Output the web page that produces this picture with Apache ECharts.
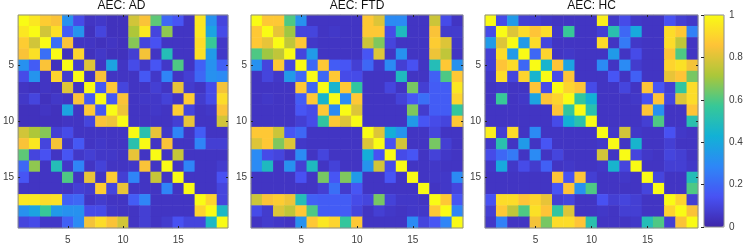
<!DOCTYPE html>
<html><head><meta charset="utf-8">
<script src="https://cdn.jsdelivr.net/npm/echarts@6/dist/echarts.min.js"></script>
<style>html,body{margin:0;padding:0;background:#fff}#c{width:747px;height:252px}</style>
</head><body><div id="c"></div>
<script>
const channels = ['1','2','3','4','5','6','7','8','9','10','11','12','13','14','15','16','17','18','19'];
const titles = ['AEC: AD', 'AEC: FTD', 'AEC: HC'];
const shownTicks = ['5', '10', '15'];
const colorbarTicks = [0, 0.2, 0.4, 0.6, 0.8, 1];

const AD = [
 [1,0.95,0.88,0.85,0.32,0.12,0.05,0.06,0.04,0.04,0.78,0.85,0.62,0.2,0.15,0.05,0.95,0.32,0.1],
 [0.95,1,0.78,0.93,0.17,0.33,0.04,0.1,0.04,0.04,0.72,0.95,0.1,0.68,0.05,0.05,0.95,0.38,0.12],
 [0.88,0.78,1,0.22,0.85,0.05,0.05,0.04,0.05,0.04,0.67,0.1,0.14,0.05,0.05,0.05,0.92,0.57,0.06],
 [0.85,0.93,0.22,1,0.04,0.9,0.04,0.06,0.04,0.04,0.08,0.84,0.05,0.5,0.05,0.05,0.93,0.35,0.06],
 [0.32,0.17,0.85,0.04,1,0.07,0.8,0.05,0.38,0.05,0.12,0.06,0.15,0.06,0.6,0.05,0.18,0.32,0.18],
 [0.12,0.33,0.05,0.9,0.07,1,0.05,0.85,0.05,0.05,0.05,0.16,0.06,0.28,0.05,0.08,0.2,0.32,0.3],
 [0.05,0.04,0.05,0.04,0.8,0.05,1,0.16,0.87,0.1,0.05,0.05,0.08,0.05,0.82,0.07,0.05,0.12,0.84],
 [0.06,0.1,0.04,0.06,0.05,0.85,0.16,1,0.16,0.85,0.05,0.06,0.06,0.09,0.05,0.88,0.07,0.12,0.92],
 [0.04,0.04,0.05,0.04,0.38,0.05,0.87,0.16,1,0.83,0.05,0.05,0.06,0.05,0.88,0.1,0.05,0.06,0.85],
 [0.04,0.04,0.04,0.04,0.05,0.05,0.1,0.85,0.83,1,0.05,0.05,0.05,0.05,0.08,0.82,0.05,0.05,0.78],
 [0.78,0.72,0.67,0.08,0.12,0.05,0.05,0.05,0.05,0.05,1,0.52,0.82,0.06,0.28,0.05,0.17,0.05,0.05],
 [0.85,0.95,0.1,0.84,0.06,0.16,0.05,0.06,0.05,0.05,0.52,1,0.05,0.85,0.05,0.05,0.28,0.08,0.08],
 [0.62,0.1,0.14,0.05,0.15,0.06,0.08,0.06,0.06,0.05,0.82,0.05,1,0.05,0.76,0.05,0.05,0.05,0.05],
 [0.2,0.68,0.05,0.5,0.06,0.28,0.05,0.09,0.05,0.05,0.06,0.85,0.05,1,0.05,0.28,0.05,0.05,0.07],
 [0.15,0.05,0.05,0.05,0.6,0.05,0.82,0.05,0.88,0.08,0.28,0.05,0.76,0.05,1,0.05,0.05,0.05,0.14],
 [0.05,0.05,0.05,0.05,0.05,0.08,0.07,0.88,0.1,0.82,0.05,0.05,0.05,0.28,0.05,1,0.05,0.05,0.1],
 [0.95,0.95,0.92,0.93,0.18,0.2,0.05,0.07,0.05,0.05,0.17,0.28,0.05,0.05,0.05,0.05,1,0.9,0.1],
 [0.32,0.38,0.57,0.35,0.32,0.32,0.12,0.12,0.06,0.05,0.05,0.08,0.05,0.05,0.05,0.05,0.9,1,0.47],
 [0.1,0.12,0.06,0.06,0.18,0.3,0.84,0.92,0.85,0.78,0.05,0.08,0.05,0.07,0.14,0.1,0.1,0.47,1]
];

const FTD = [
 [1,0.87,0.87,0.6,0.32,0.05,0.05,0.05,0.05,0.05,0.87,0.8,0.3,0.3,0.05,0.05,0.77,0.12,0.05],
 [0.87,1,0.82,0.7,0.1,0.1,0.05,0.06,0.05,0.05,0.87,0.87,0.12,0.48,0.05,0.05,0.85,0.07,0.07],
 [0.87,0.82,1,0.75,0.87,0.06,0.05,0.05,0.05,0.05,0.77,0.66,0.1,0.05,0.05,0.05,0.88,0.8,0.06],
 [0.6,0.7,0.75,1,0.1,0.35,0.05,0.05,0.05,0.05,0.15,0.8,0.05,0.32,0.05,0.05,0.83,0.75,0.05],
 [0.32,0.1,0.87,0.1,1,0.2,0.87,0.17,0.15,0.08,0.2,0.06,0.3,0.08,0.14,0.05,0.5,0.87,0.32],
 [0.05,0.1,0.06,0.35,0.2,1,0.2,0.87,0.12,0.12,0.05,0.05,0.05,0.48,0.05,0.05,0.18,0.6,0.87],
 [0.05,0.05,0.05,0.05,0.87,0.2,1,0.45,0.87,0.55,0.05,0.05,0.1,0.05,0.65,0.08,0.17,0.17,0.95],
 [0.05,0.06,0.05,0.05,0.17,0.87,0.45,1,0.3,0.87,0.05,0.05,0.05,0.09,0.15,0.22,0.17,0.17,0.9],
 [0.05,0.05,0.05,0.05,0.15,0.12,0.87,0.3,1,0.8,0.05,0.05,0.05,0.05,0.66,0.07,0.17,0.17,0.56],
 [0.05,0.05,0.05,0.05,0.08,0.12,0.55,0.87,0.8,1,0.05,0.05,0.05,0.05,0.35,0.15,0.12,0.1,0.87],
 [0.87,0.87,0.77,0.15,0.2,0.05,0.05,0.05,0.05,0.05,1,0.8,0.42,0.33,0.05,0.05,0.1,0.05,0.05],
 [0.8,0.87,0.66,0.8,0.06,0.05,0.05,0.05,0.05,0.05,0.8,1,0.14,0.78,0.05,0.05,0.65,0.08,0.05],
 [0.3,0.12,0.1,0.05,0.3,0.05,0.1,0.05,0.05,0.05,0.42,0.14,1,0.12,0.15,0.05,0.09,0.06,0.05],
 [0.3,0.48,0.05,0.32,0.08,0.48,0.05,0.09,0.05,0.05,0.33,0.78,0.12,1,0.05,0.05,0.06,0.05,0.05],
 [0.05,0.05,0.05,0.05,0.14,0.05,0.65,0.15,0.66,0.35,0.05,0.05,0.15,0.05,1,0.05,0.06,0.06,0.3],
 [0.05,0.05,0.05,0.05,0.05,0.05,0.08,0.22,0.07,0.15,0.05,0.05,0.05,0.05,0.05,1,0.05,0.06,0.1],
 [0.77,0.85,0.88,0.83,0.5,0.18,0.17,0.17,0.17,0.12,0.1,0.65,0.09,0.06,0.06,0.05,1,0.87,0.15],
 [0.12,0.07,0.8,0.75,0.87,0.6,0.17,0.17,0.17,0.1,0.05,0.08,0.06,0.05,0.06,0.06,0.87,1,0.28],
 [0.05,0.07,0.06,0.05,0.32,0.87,0.95,0.9,0.56,0.87,0.05,0.05,0.05,0.05,0.3,0.1,0.15,0.28,1]
];

const HC = [
 [1,0.12,0.35,0.08,0.08,0.06,0.05,0.05,0.05,0.05,0.97,0.06,0.12,0.06,0.05,0.05,0.14,0.08,0.06],
 [0.12,1,0.8,0.92,0.86,0.92,0.06,0.57,0.05,0.05,0.08,0.52,0.2,0.4,0.05,0.05,0.92,0.87,0.27],
 [0.35,0.8,1,0.35,0.92,0.1,0.05,0.05,0.05,0.05,0.92,0.05,0.25,0.06,0.05,0.05,0.92,0.75,0.05],
 [0.08,0.92,0.35,1,0.2,0.9,0.05,0.06,0.05,0.05,0.05,0.35,0.05,0.12,0.05,0.05,0.86,0.6,0.05],
 [0.08,0.86,0.92,0.2,1,0.45,0.86,0.38,0.05,0.05,0.3,0.05,0.3,0.07,0.05,0.05,0.9,0.93,0.84],
 [0.06,0.92,0.1,0.9,0.45,1,0.12,0.86,0.05,0.05,0.05,0.15,0.05,0.18,0.05,0.05,0.82,0.86,0.65],
 [0.05,0.06,0.05,0.05,0.86,0.12,1,0.9,0.86,0.12,0.05,0.05,0.1,0.05,0.86,0.15,0.08,0.55,0.92],
 [0.05,0.57,0.05,0.06,0.38,0.86,0.9,1,0.55,0.43,0.05,0.05,0.05,0.06,0.14,0.86,0.1,0.8,0.92],
 [0.05,0.05,0.05,0.05,0.05,0.05,0.86,0.55,1,0.52,0.05,0.05,0.05,0.05,0.86,0.32,0.05,0.05,0.86],
 [0.05,0.05,0.05,0.05,0.05,0.05,0.12,0.43,0.52,1,0.05,0.05,0.05,0.05,0.08,0.6,0.05,0.05,0.52],
 [0.97,0.08,0.92,0.05,0.3,0.05,0.05,0.05,0.05,0.05,1,0.06,0.78,0.06,0.05,0.05,0.14,0.06,0.05],
 [0.06,0.52,0.05,0.35,0.05,0.15,0.05,0.05,0.05,0.05,0.06,1,0.05,0.45,0.05,0.05,0.08,0.05,0.05],
 [0.12,0.2,0.25,0.05,0.3,0.05,0.1,0.05,0.05,0.05,0.78,0.05,1,0.1,0.06,0.05,0.1,0.08,0.05],
 [0.06,0.4,0.06,0.12,0.07,0.18,0.05,0.06,0.05,0.05,0.06,0.45,0.1,1,0.05,0.05,0.08,0.08,0.06],
 [0.05,0.05,0.05,0.05,0.05,0.05,0.86,0.14,0.86,0.08,0.05,0.05,0.06,0.05,1,0.1,0.05,0.05,0.5],
 [0.05,0.05,0.05,0.05,0.05,0.05,0.15,0.86,0.32,0.6,0.05,0.05,0.05,0.05,0.1,1,0.05,0.05,0.6],
 [0.14,0.92,0.92,0.86,0.9,0.82,0.08,0.1,0.05,0.05,0.14,0.08,0.1,0.08,0.05,0.05,1,0.9,0.08],
 [0.08,0.87,0.75,0.6,0.93,0.86,0.55,0.8,0.05,0.05,0.06,0.05,0.08,0.08,0.05,0.05,0.9,1,0.85],
 [0.06,0.27,0.05,0.05,0.84,0.65,0.92,0.92,0.86,0.52,0.05,0.05,0.05,0.06,0.5,0.6,0.08,0.85,1]
];

const matrices = [AD, FTD, HC];
const parula = ['#3e26a8','#4852f4','#2e87f7','#12b1d6','#37c897','#abc739','#fec338','#f9fb15'];

const FONT = 'Liberation Sans, Arial, sans-serif';
const panels = [
  {left: 15, width: 213},
  {left: 251, width: 212},
  {left: 485, width: 213}
];
const TOP = 15, H = 213;
const lineColor = '#8c8c8c';
const tickColor = '#262626';
const showTick = (idx) => shownTicks.indexOf(channels[idx]) >= 0;

const grid = [], xAxis = [], yAxis = [], series = [], title = [];
panels.forEach((p, i) => {
  grid.push({left: p.left, top: TOP, width: p.width, height: H, show: true, borderColor: lineColor, borderWidth: 1, backgroundColor: 'transparent', z: 10});
  title.push({text: titles[i], left: p.left + p.width / 2, top: 0, textAlign: 'center', padding: 0,
    textStyle: {fontFamily: FONT, fontSize: 12, fontWeight: 'normal', color: '#111'}});
  const base = {type: 'category', data: channels, gridIndex: i, z: 11,
    axisLine: {show: false}, splitLine: {show: false}, splitArea: {show: false}};
  // bottom
  xAxis.push(Object.assign({}, base, {position: 'bottom',
    axisTick: {show: true, inside: true, length: 2, alignWithLabel: true, interval: showTick, lineStyle: {color: tickColor}},
    axisLabel: {show: true, interval: showTick, margin: 7, fontFamily: FONT, fontSize: 10, color: '#404040'}}));
  // top (ticks only)
  xAxis.push(Object.assign({}, base, {position: 'top',
    axisTick: {show: true, inside: true, length: 2, alignWithLabel: true, interval: showTick, lineStyle: {color: tickColor}},
    axisLabel: {show: false}}));
  yAxis.push(Object.assign({}, base, {position: 'left', inverse: true,
    axisTick: {show: true, inside: true, length: 2, alignWithLabel: true, interval: showTick, lineStyle: {color: tickColor}},
    axisLabel: {show: true, interval: showTick, margin: 4, fontFamily: FONT, fontSize: 10, color: '#404040'}}));
  yAxis.push(Object.assign({}, base, {position: 'right', inverse: true,
    axisTick: {show: true, inside: true, length: 2, alignWithLabel: true, interval: showTick, lineStyle: {color: tickColor}},
    axisLabel: {show: false}}));
  const data = [];
  matrices[i].forEach((row, r) => row.forEach((v, c) => data.push([c, r, v])));
  series.push({type: 'heatmap', xAxisIndex: i * 2, yAxisIndex: i * 2, data: data,
    itemStyle: {borderWidth: 0}, emphasis: {disabled: true}, progressive: 0});
});

// colorbar axis
const CB = {left: 704, top: 15, width: 20, height: 212};
grid.push({left: CB.left, top: CB.top, width: CB.width, height: CB.height, show: true, borderColor: lineColor, borderWidth: 1, backgroundColor: 'transparent', z: 10});
xAxis.push({type: 'value', gridIndex: 3, show: false, min: 0, max: 1});
yAxis.push({type: 'value', gridIndex: 3, position: 'right', min: 0, max: 1, interval: 0.2, z: 11,
  axisLine: {show: false}, splitLine: {show: false},
  axisTick: {show: true, inside: true, length: 3, lineStyle: {color: tickColor}},
  axisLabel: {show: true, margin: 5, fontFamily: FONT, fontSize: 10, color: '#404040',
    formatter: (v) => { const t = colorbarTicks.find(k => Math.abs(k - v) < 1e-6); return t === undefined ? '' : String(t); }}});

const chart = echarts.init(document.getElementById('c'), null, {renderer: 'canvas'});
chart.setOption({
  animation: false,
  backgroundColor: '#fff',
  title: title,
  grid: grid,
  xAxis: xAxis,
  yAxis: yAxis,
  visualMap: {type: 'continuous', min: 0, max: 1, seriesIndex: [0, 1, 2], calculable: false,
    orient: 'vertical', left: CB.left, top: CB.top, itemWidth: CB.width, itemHeight: CB.height,
    padding: 0, text: null, showLabel: false, inRange: {color: parula}, hoverLink: false},
  series: series
});
</script></body></html>
